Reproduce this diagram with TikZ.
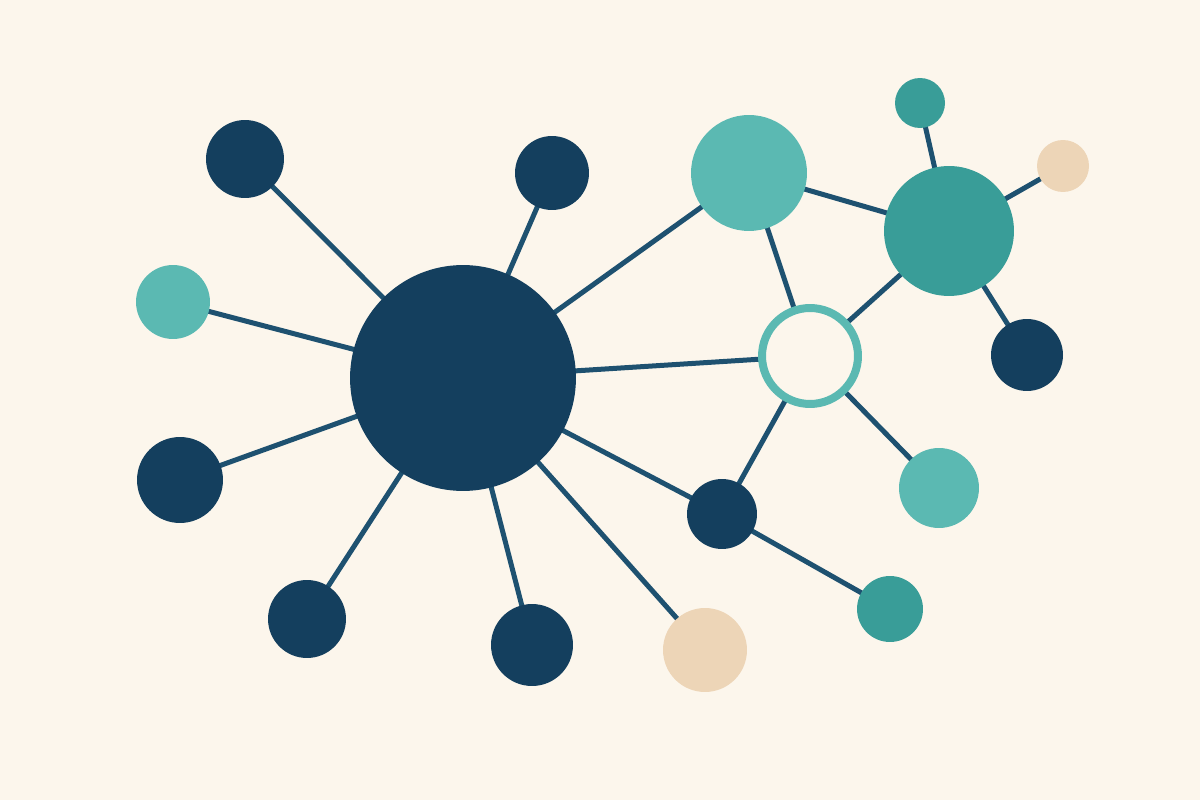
\documentclass[tikz,border=0pt]{standalone}
\definecolor{bg}{HTML}{FCF6EC}
\definecolor{navy}{HTML}{143F5E}
\definecolor{tealL}{HTML}{5BB9B2}
\definecolor{tealD}{HTML}{399D98}
\definecolor{beige}{HTML}{EDD5B7}
\definecolor{edgec}{HTML}{1E5170}
\begin{document}
\begin{tikzpicture}[x=0.02cm,y=-0.02cm,
  dot/.style={circle,inner sep=0pt,outer sep=0pt,minimum size=#1*0.04cm},
  nv/.style={dot=#1,fill=navy},
  tl/.style={dot=#1,fill=tealL},
  td/.style={dot=#1,fill=tealD},
  bg2/.style={dot=#1,fill=beige},
  ring/.style={dot=#1,fill=bg,draw=tealL,line width=0.16cm},
  link/.style={draw=edgec,line width=0.1cm}]
\fill[bg] (0,0) rectangle (1200,800);
\useasboundingbox (0,0) rectangle (1200,800);
\coordinate (hub) at (463,378);
\coordinate (A) at (245,159);
\coordinate (B) at (552,173);
\coordinate (C) at (173,302);
\coordinate (D) at (180,480);
\coordinate (E) at (307,619);
\coordinate (F) at (532,645);
\coordinate (G) at (705,650);
\coordinate (H) at (749,173);
\coordinate (I) at (949,231);
\coordinate (J) at (920,103);
\coordinate (K) at (1063,166);
\coordinate (L) at (1027,355);
\coordinate (M) at (810,356);
\coordinate (N) at (939,488);
\coordinate (O) at (722,514);
\coordinate (P) at (890,609);
\foreach \t in {A,B,C,D,E,F,G,H,M,O}{\draw[link] (hub) -- (\t);}
\draw[link] (H) -- (I);
\draw[link] (H) -- (M);
\draw[link] (I) -- (J);
\draw[link] (I) -- (K);
\draw[link] (I) -- (L);
\draw[link] (I) -- (M);
\draw[link] (M) -- (N);
\draw[link] (M) -- (O);
\draw[link] (O) -- (P);
\node[nv=113] (nhub) at (hub) {};
\node[nv=39] (nA) at (A) {};
\node[nv=37] (nB) at (B) {};
\node[tl=37] (nC) at (C) {};
\node[nv=43] (nD) at (D) {};
\node[nv=39] (nE) at (E) {};
\node[nv=41] (nF) at (F) {};
\node[bg2=42] (nG) at (G) {};
\node[tl=58] (nH) at (H) {};
\node[td=65] (nI) at (I) {};
\node[td=25] (nJ) at (J) {};
\node[bg2=26] (nK) at (K) {};
\node[nv=36] (nL) at (L) {};
\node[ring=48] (nM) at (M) {};
\node[tl=40] (nN) at (N) {};
\node[nv=35] (nO) at (O) {};
\node[td=33] (nP) at (P) {};
\end{tikzpicture}
\end{document}
